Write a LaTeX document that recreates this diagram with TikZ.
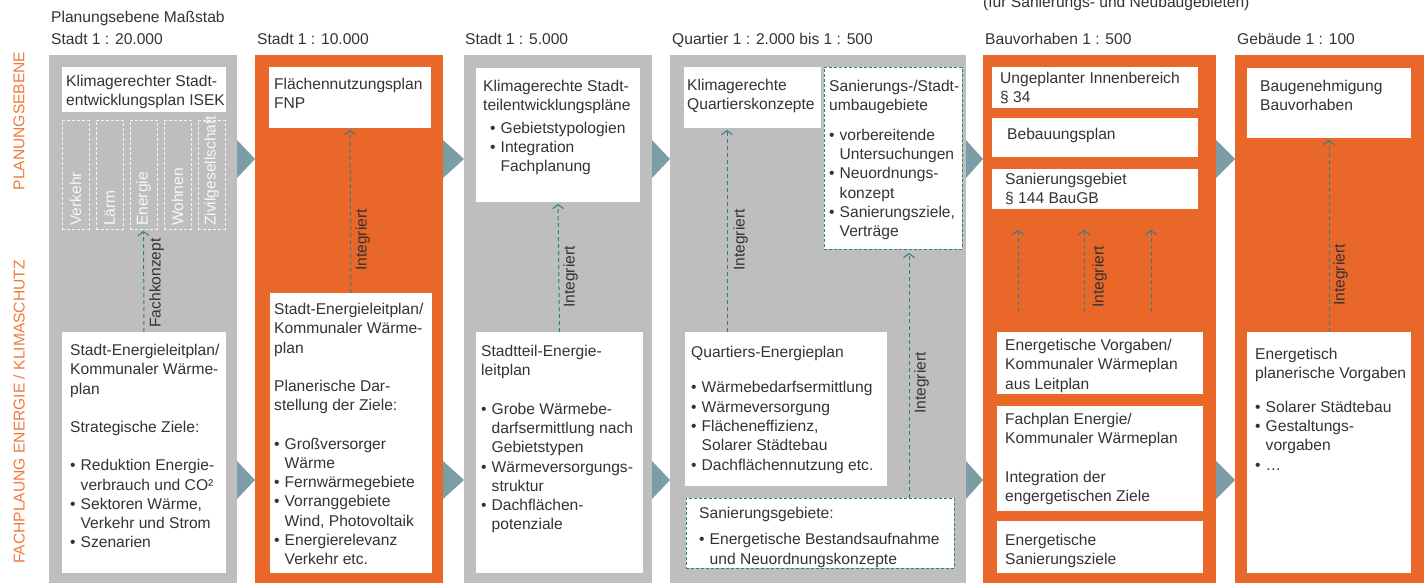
\documentclass[tikz,border=0pt]{standalone}
\usepackage{fontspec}
\setmainfont{Liberation Sans}
\usepackage{xcolor}
\usepackage{tikz}
\usetikzlibrary{positioning, arrows.meta, calc}

\definecolor{planorange}{HTML}{E96728}
\definecolor{sideorange}{HTML}{EF7A3C}
\definecolor{plangray}{HTML}{BEBEBE}
\definecolor{linkteal}{HTML}{2F7E89}
\definecolor{flowblue}{HTML}{7C9DA6}
\definecolor{textgray}{HTML}{333333}

\newcommand{\bul}{\makebox[10.5pt][l]{\textbullet}}
\newcommand{\ind}{\hspace*{10.5pt}}

\tikzstyle{column} = [rectangle, anchor=north west, inner sep=0pt, outer sep=0pt]
\tikzstyle{panel} = [rectangle, anchor=north west, fill=white, inner sep=0pt, outer sep=0pt]
\tikzstyle{dpanel} = [panel, draw=linkteal, dash pattern=on 3pt off 2pt, line width=0.9pt]
\tikzstyle{topic} = [rectangle, anchor=north west, draw=white!85!plangray, dash pattern=on 3pt off 2pt, line width=0.9pt, inner sep=0pt, outer sep=0pt]
\tikzstyle{txt} = [inner sep=0pt, align=left, text=textgray, font=\fontsize{15.6}{19.3}\selectfont]
\tikzstyle{head} = [txt, anchor=base west]
\tikzstyle{side} = [txt, rotate=90, text=sideorange]
\tikzstyle{lbl} = [txt, rotate=90, anchor=north]
\tikzstyle{topictxt} = [txt, rotate=90, anchor=west, text=white!88!plangray]
\tikzstyle{link} = [linkteal, line width=1pt, dash pattern=on 4pt off 3pt, -{Straight Barb[length=4pt,width=11pt]}, shorten >=2pt]
\tikzstyle{flow} = [fill=flowblue]

\begin{document}
\begin{tikzpicture}[x=1pt, y=-1pt]
      \useasboundingbox (0,0) rectangle (1424,583);

      % Columns
      \node[column, fill=plangray, minimum width=188pt, minimum height=528pt] (c1) at (49,55) {};
      \node[column, fill=planorange, minimum width=188pt, minimum height=528pt] (c2) at (255,55) {};
      \node[column, fill=plangray, minimum width=188pt, minimum height=528pt] (c3) at (464,55) {};
      \node[column, fill=plangray, minimum width=296pt, minimum height=528pt] (c4) at (670,55) {};
      \node[column, fill=planorange, minimum width=233pt, minimum height=528pt] (c5) at (983,55) {};
      \node[column, fill=planorange, minimum width=189pt, minimum height=528pt] (c6) at (1235,55) {};

      % Flow triangles
      \foreach \a/\b in {237/255, 443/464, 652/670, 966/983, 1216/1235} {
        \fill[flow] (\a,140) -- (\b,159) -- (\a,178) -- cycle;
        \fill[flow] (\a,461) -- (\b,480) -- (\a,499) -- cycle;
      }

      % Headers
      \node[head] (h0) at (51,23) {Planungsebene Maßstab};
      \node[head] (h1) at (51,45) {Stadt 1 : 20.000};
      \node[head] (h2) at (257,45) {Stadt 1 : 10.000};
      \node[head] (h3) at (465,45) {Stadt 1 : 5.000};
      \node[head] (h4) at (672,45) {Quartier 1 : 2.000 bis 1 : 500};
      \node[head] (h5) at (985,45) {Bauvorhaben 1 : 500};
      \node[head] (h6) at (1237,45) {Gebäude 1 : 100};
      \node[head] (h7) at (983,8) {(für Sanierungs- und Neubaugebieten)};

      % Side labels
      \node[side] (sp) at (19,121) {PLANUNGSEBENE};
      \node[side] (sf) at (19,412) {FACHPLAUNG ENERGIE / KLIMASCHUTZ};

      % Column 1
      \node[panel, minimum width=164pt, minimum height=45pt] (isek) at (62,67) {};
      \node[txt, below right=8pt and 4pt of isek.north west] (isektxt) {Klimagerechter Stadt-\\entwicklungsplan ISEK};
      \foreach \t [count=\i from 0] in {Verkehr, Lärm, Energie, Wohnen, Zivilgesellschaft} {
        \node[topic, minimum width=27pt, minimum height=109pt] (t\i) at (62+34*\i,120) {};
        \node[topictxt] (tt\i) at ([yshift=3pt]t\i.south) {\t};
      }
      \node[panel, minimum width=164pt, minimum height=241pt] (ziele) at (62,332) {};
      \node[txt, below right=12pt and 8pt of ziele.north west] (zieletxt) {Stadt-Energieleitplan/\\Kommunaler Wärme-\\plan\\[19pt]Strategische Ziele:\\[19pt]\bul Reduktion Energie-\\\ind verbrauch und CO²\\\bul Sektoren Wärme,\\\ind Verkehr und Strom\\\bul Szenarien};
      \draw[link] (ziele.north) -- (t2.south);
      \node[lbl] (fk) at (149,283) {Fachkonzept};

      % Column 2
      \node[panel, minimum width=162pt, minimum height=61pt] (fnp) at (269,67) {};
      \node[txt, below right=11pt and 5pt of fnp.north west] (fnptxt) {Flächennutzungsplan\\FNP};
      \node[panel, minimum width=162pt, minimum height=280pt] (ewp) at (270,293) {};
      \node[txt, below right=10pt and 4pt of ewp.north west] (ewptxt) {Stadt-Energieleitplan/\\Kommunaler Wärme-\\plan\\[19pt]Planerische Dar-\\stellung der Ziele:\\[19pt]\bul Großversorger\\\ind Wärme\\\bul Fernwärmegebiete\\\bul Vorranggebiete\\\ind Wind, Photovoltaik\\\bul Energierelevanz\\\ind Verkehr etc.};
      \draw[link] (ewp.north) -- (fnp.south);
      \node[lbl] (int2) at (355,240) {Integriert};

      % Column 3
      \node[panel, minimum width=164pt, minimum height=134pt] (stek) at (476,68) {};
      \node[txt, below right=12pt and 7pt of stek.north west] (stektxt) {Klimagerechte Stadt-\\teilentwicklungspläne\\[3pt]\hspace*{7pt}\bul Gebietstypologien\\\hspace*{7pt}\bul Integration\\\hspace*{7pt}\ind Fachplanung};
      \node[panel, minimum width=167pt, minimum height=241pt] (stel) at (476,332) {};
      \node[txt, below right=13pt and 5pt of stel.north west] (steltxt) {Stadtteil-Energie-\\leitplan\\[19pt]\bul Grobe Wärmebe-\\\ind darfsermittlung nach\\\ind Gebietstypen\\\bul Wärmeversorgungs-\\\ind struktur\\\bul Dachflächen-\\\ind potenziale};
      \draw[link] (stel.north) -- (stek.south);
      \node[lbl] (int3) at (563,277) {Integriert};

      % Column 4
      \node[panel, minimum width=137pt, minimum height=61pt] (qkonz) at (684,67) {};
      \node[txt, below right=12pt and 3pt of qkonz.north west] (qkonztxt) {Klimagerechte\\Quartierskonzepte};
      \node[dpanel, minimum width=138pt, minimum height=182pt] (sanum) at (824,67) {};
      \node[txt, below right=13pt and 5pt of sanum.north west] (sanumtxt) {Sanierungs-/Stadt-\\umbaugebiete\\[10pt]\bul vorbereitende\\\ind Untersuchungen\\\bul Neuordnungs-\\\ind konzept\\\bul Sanierungsziele,\\\ind Verträge};
      \node[panel, minimum width=202pt, minimum height=154pt] (qplan) at (685,332) {};
      \node[txt, below right=14pt and 6pt of qplan.north west] (qplantxt) {Quartiers-Energieplan\\[16pt]\bul Wärmebedarfsermittlung\\\bul Wärmeversorgung\\\bul Flächeneffizienz,\\\ind Solarer Städtebau\\\bul Dachflächennutzung etc.};
      \node[dpanel, minimum width=268pt, minimum height=70pt] (sanbest) at (686,498) {};
      \node[txt, below right=9pt and 13pt of sanbest.north west] (sanbesttxt) {Sanierungsgebiete:\\[7pt]\bul Energetische Bestandsaufnahme\\\ind und Neuordnungskonzepte};
      \coordinate (xq) at (727,0);
      \coordinate (xs) at (909,0);
      \draw[link] (qplan.north -| xq) -- (qkonz.south -| xq);
      \node[lbl] (int4) at (733,240) {Integriert};
      \draw[link, shorten >=4pt] (sanbest.north -| xs) -- (sanum.south -| xs);
      \node[lbl] (int4b) at (914,383) {Integriert};

      % Column 5
      \node[panel, minimum width=206pt, minimum height=41pt] (ungepl) at (992,67) {};
      \node[txt, below right=5pt and 8pt of ungepl.north west] (ungepltxt) {Ungeplanter Innenbereich\\§ 34};
      \node[panel, minimum width=206pt, minimum height=39pt] (bplan) at (992,118) {};
      \node[txt, below right=10pt and 15pt of bplan.north west] (bplantxt) {Bebauungsplan};
      \node[panel, minimum width=206pt, minimum height=40pt] (sanb) at (992,169) {};
      \node[txt, below right=4pt and 13pt of sanb.north west] (sanbtxt) {Sanierungsgebiet\\§ 144 BauGB};
      \node[panel, minimum width=206pt, minimum height=62pt] (vorg) at (997,332) {};
      \node[txt, below right=7pt and 8pt of vorg.north west] (vorgtxt) {Energetische Vorgaben/\\Kommunaler Wärmeplan\\aus Leitplan};
      \node[panel, minimum width=206pt, minimum height=105pt] (fachpl) at (997,406) {};
      \node[txt, below right=7pt and 8pt of fachpl.north west] (fachpltxt) {Fachplan Energie/\\Kommunaler Wärmeplan\\[19pt]Integration der\\engergetischen Ziele};
      \node[panel, minimum width=206pt, minimum height=52pt] (sanziel) at (997,521) {};
      \node[txt, below right=13pt and 8pt of sanziel.north west] (sanzieltxt) {Energetische\\Sanierungsziele};
      \foreach \x in {1018, 1084, 1151} {
        \coordinate (xb) at (\x,0);
        \draw[link, shorten <=20pt, shorten >=21pt] (vorg.north -| xb) -- (sanb.south -| xb);
      }
      \node[lbl] (int5) at (1092,277) {Integriert};

      % Column 6
      \node[panel, minimum width=164pt, minimum height=70pt] (bauge) at (1247,68) {};
      \node[txt, below right=12pt and 13pt of bauge.north west] (baugetxt) {Baugenehmigung\\Bauvorhaben};
      \node[panel, minimum width=164pt, minimum height=241pt] (evorg) at (1247,332) {};
      \node[txt, below right=16pt and 8pt of evorg.north west] (evorgtxt) {Energetisch\\planerische Vorgaben\\[14pt]\bul Solarer Städtebau\\\bul Gestaltungs-\\\ind vorgaben\\\bul …};
      \draw[link] (evorg.north) -- (bauge.south);
      \node[lbl] (int6) at (1333,275) {Integriert};
    \end{tikzpicture}
\end{document}
